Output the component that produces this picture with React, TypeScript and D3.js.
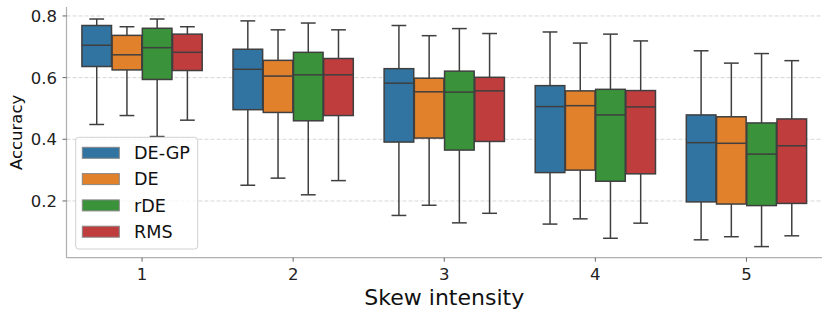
import React, { useEffect, useRef } from 'react';
import * as d3 from 'd3';

// skew intensity levels on the x axis
const categories = ['1', '2', '3', '4', '5'];
const methods = ['DE-GP', 'DE', 'rDE', 'RMS'];
const colors = ['#3274a1', '#e1812c', '#3a923a', '#c03d3e'];
const yTicks = [0.2, 0.4, 0.6, 0.8];

// [whisker low, Q1, median, Q3, whisker high] per skew level
const deGP = [
  [0.448, 0.636, 0.705, 0.769, 0.790],
  [0.251, 0.496, 0.627, 0.692, 0.784],
  [0.153, 0.391, 0.582, 0.629, 0.769],
  [0.125, 0.292, 0.506, 0.574, 0.748],
  [0.074, 0.197, 0.389, 0.479, 0.687],
];
const de = [
  [0.477, 0.625, 0.674, 0.737, 0.765],
  [0.274, 0.487, 0.605, 0.656, 0.755],
  [0.186, 0.404, 0.554, 0.598, 0.736],
  [0.142, 0.300, 0.509, 0.557, 0.712],
  [0.084, 0.190, 0.387, 0.473, 0.647],
];
const rDE = [
  [0.409, 0.594, 0.697, 0.760, 0.790],
  [0.220, 0.460, 0.609, 0.682, 0.777],
  [0.129, 0.365, 0.553, 0.621, 0.759],
  [0.079, 0.264, 0.479, 0.562, 0.741],
  [0.052, 0.185, 0.352, 0.453, 0.678],
];
const rms = [
  [0.462, 0.623, 0.682, 0.741, 0.765],
  [0.266, 0.477, 0.609, 0.662, 0.755],
  [0.160, 0.393, 0.557, 0.601, 0.743],
  [0.128, 0.288, 0.505, 0.558, 0.719],
  [0.087, 0.192, 0.379, 0.466, 0.655],
];
const series = [deGP, de, rDE, rms];

export default function App() {
  const ref = useRef<SVGSVGElement>(null);

  useEffect(() => {
    const width = 830;
    const height = 318;
    const left = 66.5;
    const right = 822;
    const top = 7;
    const bottom = 257.7;
    const gray = '#3f3f3f';
    const font = 'DejaVu Sans';

    const svg = d3.select(ref.current);
    svg.selectAll('*').remove();
    svg.attr('width', width).attr('height', height).style('background', 'white');

    const x = d3.scaleLinear().domain([-0.5, categories.length - 0.5]).range([left, right]);
    const y = d3.scaleLinear().domain([0.016, 0.829]).range([bottom, top]);

    // grid
    svg.append('g')
      .selectAll('line')
      .data(yTicks)
      .enter()
      .append('line')
      .attr('x1', left)
      .attr('x2', right)
      .attr('y1', d => y(d))
      .attr('y2', d => y(d))
      .attr('stroke', '#d6d6d6')
      .attr('stroke-width', 1)
      .attr('stroke-dasharray', '4,2');

    const groupWidth = 0.8;
    const hueWidth = groupWidth / methods.length;
    const boxW = x(hueWidth * 0.98) - x(0);

    series.forEach((data, si) => {
      const g = svg.append('g');
      data.forEach((d, ci) => {
        const cx = x(ci - groupWidth / 2 + hueWidth * (si + 0.5));
        const [lo, q1, med, q3, hi] = d;
        // whiskers
        g.append('line')
          .attr('x1', cx).attr('x2', cx)
          .attr('y1', y(hi)).attr('y2', y(q3))
          .attr('stroke', gray).attr('stroke-width', 1.5);
        g.append('line')
          .attr('x1', cx).attr('x2', cx)
          .attr('y1', y(q1)).attr('y2', y(lo))
          .attr('stroke', gray).attr('stroke-width', 1.5);
        // caps
        [lo, hi].forEach(v => {
          g.append('line')
            .attr('x1', cx - boxW / 4).attr('x2', cx + boxW / 4)
            .attr('y1', y(v)).attr('y2', y(v))
            .attr('stroke', gray).attr('stroke-width', 1.5);
        });
        g.append('rect')
          .attr('x', cx - boxW / 2)
          .attr('width', boxW)
          .attr('y', y(q3))
          .attr('height', y(q1) - y(q3))
          .attr('fill', colors[si])
          .attr('stroke', gray)
          .attr('stroke-width', 1.5);
        g.append('line')
          .attr('x1', cx - boxW / 2).attr('x2', cx + boxW / 2)
          .attr('y1', y(med)).attr('y2', y(med))
          .attr('stroke', gray).attr('stroke-width', 1.5);
      });
    });

    // spines
    svg.append('line')
      .attr('x1', left).attr('x2', left).attr('y1', top).attr('y2', bottom)
      .attr('stroke', '#b0b0b0').attr('stroke-width', 1.25);
    svg.append('line')
      .attr('x1', left).attr('x2', right).attr('y1', bottom).attr('y2', bottom)
      .attr('stroke', '#b0b0b0').attr('stroke-width', 1.25);

    // y ticks
    const yt = svg.append('g');
    yTicks.forEach(t => {
      yt.append('line')
        .attr('x1', left - 4).attr('x2', left)
        .attr('y1', y(t)).attr('y2', y(t))
        .attr('stroke', '#666').attr('stroke-width', 1);
      yt.append('text')
        .attr('x', left - 9.5)
        .attr('y', y(t))
        .attr('dy', '0.36em')
        .attr('text-anchor', 'end')
        .attr('font-family', font)
        .attr('font-size', 16.5)
        .attr('fill', '#222')
        .text(d3.format('.1f')(t));
    });

    // x ticks
    const xt = svg.append('g');
    categories.forEach((c, i) => {
      xt.append('line')
        .attr('x1', x(i)).attr('x2', x(i))
        .attr('y1', bottom).attr('y2', bottom + 4)
        .attr('stroke', '#666').attr('stroke-width', 1);
      xt.append('text')
        .attr('x', x(i))
        .attr('y', bottom + 22)
        .attr('text-anchor', 'middle')
        .attr('font-family', font)
        .attr('font-size', 16.5)
        .attr('fill', '#222')
        .text(c);
    });

    svg.append('text')
      .attr('x', (left + right) / 2)
      .attr('y', 305)
      .attr('text-anchor', 'middle')
      .attr('font-family', font)
      .attr('font-size', 22)
      .attr('fill', '#111')
      .text('Skew intensity');

    svg.append('text')
      .attr('transform', `translate(22, ${(top + bottom) / 2})rotate(270)`)
      .attr('text-anchor', 'middle')
      .attr('font-family', font)
      .attr('font-size', 16.5)
      .attr('fill', '#111')
      .text('Accuracy');

    // legend
    const lg = svg.append('g');
    lg.append('rect')
      .attr('x', 75.7).attr('y', 137.3)
      .attr('width', 122).attr('height', 111.7)
      .attr('rx', 3)
      .attr('fill', 'white').attr('fill-opacity', 0.8)
      .attr('stroke', '#d0d0d0').attr('stroke-width', 1);
    methods.forEach((m, i) => {
      const cy = 152.8 + i * 26.3;
      lg.append('rect')
        .attr('x', 82.3).attr('y', cy - 5.5)
        .attr('width', 37).attr('height', 11)
        .attr('fill', colors[i])
        .attr('stroke', '#888').attr('stroke-width', 1);
      lg.append('text')
        .attr('x', 134).attr('y', cy)
        .attr('dy', '0.36em')
        .attr('font-family', font)
        .attr('font-size', 17.6)
        .attr('fill', '#111')
        .text(m);
    });
  }, []);

  return (
    <div style={{ position: 'fixed', left: 0, top: 0 }}>
      <svg ref={ref} />
    </div>
  );
}
